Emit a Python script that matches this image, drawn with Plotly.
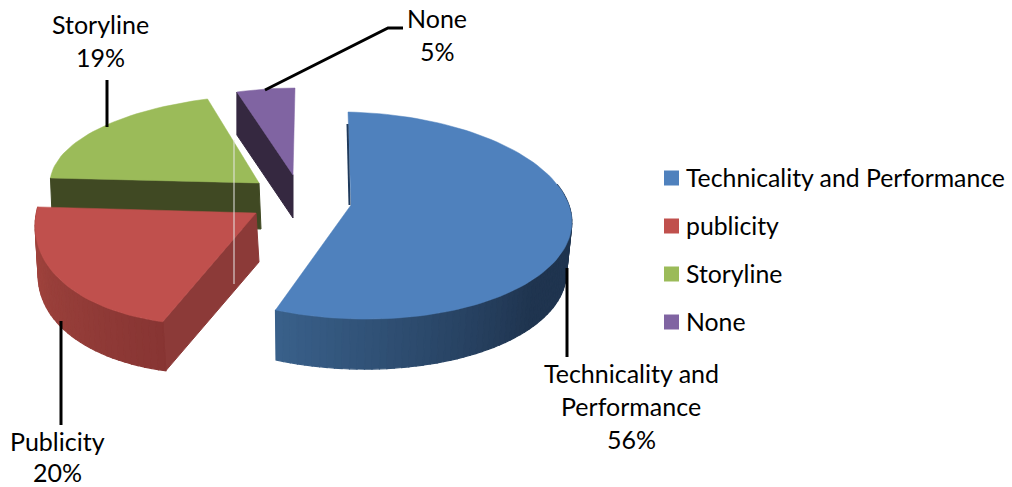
import math
import plotly.graph_objects as go

W, H = 1012, 487
FONT = "Lato"
FS_LABEL = 25
FS_LEGEND = 24.8

categories = ["Technicality and Performance", "publicity", "Storyline", "None"]
shares = [56, 20, 19, 5]
label_lines = [["Technicality and", "Performance"], ["Publicity"], ["Storyline"], ["None"]]
top_colors = ["#4F81BD", "#C0504D", "#9BBB59", "#8064A2"]

# geometry of each exploded slice, in pixels of the 3-D projection
geom = [
    dict(cx=352.3, cy=215.5, rx=219.5, ry=103.5, s=-4.3, t=4.5, ax=351, ay=205, d=50, k=0.98, dx=-1),
    dict(cx=266, cy=195, rx=230, ry=128.5, s=20, t=-20, ax=256, ay=213, d=49, k=1, dx=3),
    dict(cx=278, cy=183.6, rx=228, ry=89, s=0, t=0, ax=259, ay=183, d=46, k=1, dx=2),
    dict(cx=295, cy=170, rx=188, ry=82, s=0, t=0, ax=293, ay=175, d=43, k=1, dx=0),
]
side_grad = [("#39608A", "#1F344F", 75), ("#A5463F", "#873533", 72), None, None]
inner_face = [None, "#8C3A38", "#404923", "#352840"]

bounds = []
acc = 0
for v in shares:
    bounds.append((acc * 3.6, (acc + v) * 3.6))
    acc += v


def rim(g, deg):
    a = math.radians(deg)
    return (g["cx"] + g["rx"] * math.sin(a) + g["s"] * math.cos(a),
            g["cy"] - g["ry"] * math.cos(a) + g["t"] * math.sin(a))


def low(g, p):
    return (g["cx"] + (p[0] - g["cx"]) * g["k"] + g["dx"], p[1] + g["d"])


def hexmix(c1, c2, f):
    a = [int(c1[i:i + 2], 16) for i in (1, 3, 5)]
    b = [int(c2[i:i + 2], 16) for i in (1, 3, 5)]
    return "rgb(%d,%d,%d)" % tuple(round(x + (y - x) * f) for x, y in zip(a, b))


fig = go.Figure()


def poly(pts, color, lw=1.0):
    fig.add_trace(go.Scatter(
        x=[p[0] for p in pts] + [pts[0][0]], y=[p[1] for p in pts] + [pts[0][1]],
        mode="lines", fill="toself", fillcolor=color,
        line=dict(color=color, width=lw), showlegend=False, hoverinfo="skip"))


def draw_slice(i):
    g = geom[i]
    th0, th1 = bounds[i]
    apex = (g["ax"], g["ay"])
    if inner_face[i]:
        # straight cut face that turns toward the viewer
        p = rim(g, th0)
        poly([apex, p, low(g, p), low(g, apex)], inner_face[i])
    if side_grad[i]:
        c_end, c_far, span = side_grad[i]
        step = 2.0
        lo = max(th0, 70) if i == 0 else th0
        a = th1
        while a > lo:
            b = max(a - step, lo)
            col = hexmix(c_end, c_far, min(1, (th1 - a) / span))
            pa, pb = rim(g, a), rim(g, b)
            poly([pa, pb, low(g, pb), low(g, pa)], col, 1.2)
            a = b
    n = max(8, int((th1 - th0) / 2))
    pts = [apex] + [rim(g, th0 + (th1 - th0) * j / n) for j in range(n + 1)]
    poly(pts, top_colors[i], 0.5)


for idx in (3, 2, 0, 1):
    draw_slice(idx)

# thin dark cut edge of the large slice
st = rim(geom[0], 0)
fig.add_trace(go.Scatter(x=[st[0] - 0.5, geom[0]["ax"] - 1.5], y=[st[1] + 12, geom[0]["ay"]],
                         mode="lines", line=dict(color="#1F3A5C", width=2),
                         showlegend=False, hoverinfo="skip"))

# legend keys and texts, laid out on a fixed 48 px pitch
LEG_X, LEG_TX, LEG_Y0, LEG_PITCH = 671.5, 684, 177, 48
for j, (name, col) in enumerate(zip(categories, top_colors)):
    ly = LEG_Y0 + j * LEG_PITCH
    fig.add_trace(go.Scatter(x=[LEG_X], y=[ly + 1], mode="markers", name=name, showlegend=False,
                             hoverinfo="skip", marker=dict(symbol="square", size=15, color=col)))
    fig.add_annotation(x=LEG_TX, y=ly, text=name, showarrow=False, xref="x", yref="y",
                       xanchor="left", yanchor="middle",
                       font=dict(family=FONT, size=FS_LEGEND, color="black"))

# leader lines
leaders = [
    [(567, 268), (567, 357)],
    [(61, 321), (61, 425)],
    [(107, 127), (107, 80)],
    [(265, 90), (388, 28), (403, 28)],
]
for pts in leaders:
    fig.add_trace(go.Scatter(x=[p[0] for p in pts], y=[p[1] for p in pts], mode="lines",
                             line=dict(color="black", width=3), showlegend=False, hoverinfo="skip"))

# stray light rule over the left slices
fig.add_shape(type="line", x0=234, x1=234, y0=140, y1=284, xref="x", yref="y",
              line=dict(color="#E6E6E6", width=1))

# data labels
label_pos = [(631, 373, 33), (57, 441, 31), (100, 24, 33), (437, 18, 33)]
for lines, v, (lx, ly, pitch) in zip(label_lines, shares, label_pos):
    for j, t in enumerate(lines + ["%d%%" % v]):
        fig.add_annotation(x=lx, y=ly + j * pitch, text=t, showarrow=False, xref="x", yref="y",
                           xanchor="center", yanchor="middle",
                           font=dict(family=FONT, size=FS_LABEL, color="black"))

fig.update_layout(
    width=W, height=H, margin=dict(l=0, r=0, t=0, b=0), autosize=False,
    paper_bgcolor="white", plot_bgcolor="white", showlegend=False,
    xaxis=dict(range=[0, W], visible=False, fixedrange=True),
    yaxis=dict(range=[H, 0], visible=False, fixedrange=True),
)
fig.write_html("out.html", config=dict(displayModeBar=False),
               post_script="document.body.style.margin='0';document.documentElement.style.overflow='hidden';")
